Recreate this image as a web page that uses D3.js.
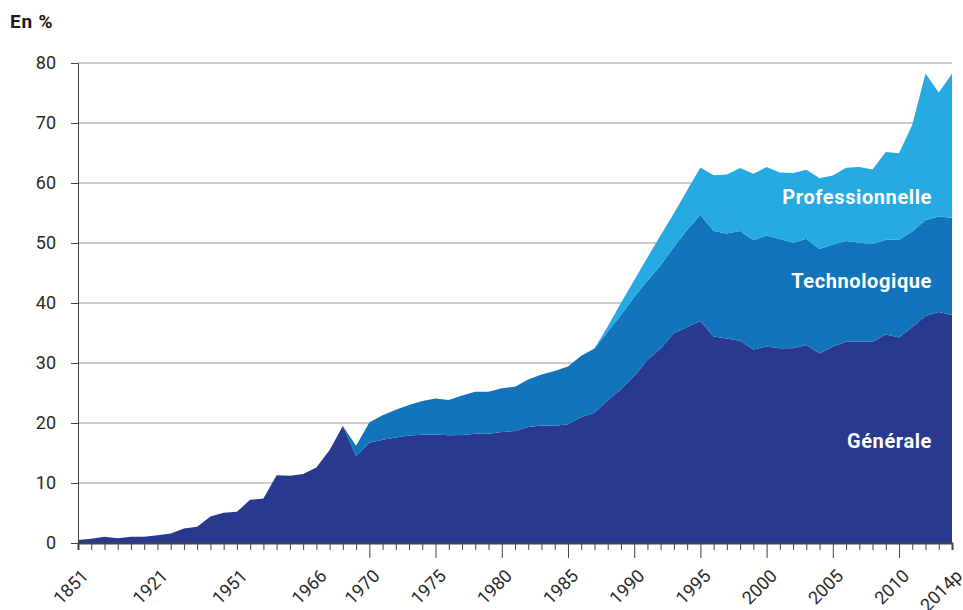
<!DOCTYPE html>
<html>
<head>
<meta charset="utf-8">
<style>
  html, body {
    margin: 0;
    padding: 0;
    background: #fff;
  }
  .grid line {
    stroke: #9a9a9a;
    stroke-width: 1;
  }
  .axis text {
    font: 400 18px Roboto, sans-serif;
    fill: #2a2a2a;
  }
  .axis path, .axis line {
    stroke: #444;
  }
  .serie-label {
    font: bold 20px Roboto, sans-serif;
    letter-spacing: 0.6px;
    fill: #fff;
  }
  .unit {
    font: bold 19px Roboto, sans-serif;
    letter-spacing: 0.8px;
    fill: #1a1a1a;
  }
</style>
</head>
<body>
<div id="chart"></div>

<script src="https://d3js.org/d3.v7.min.js"></script>
<script>

// categories (the axis is not proportional to time)
var years = ["1851", "1861", "1881", "1891", "1901", "1911", "1921",
  "1926", "1931", "1936", "1946", "1949", "1951",
  "1955", "1960", "1962", "1964", "1965", "1966",
  "1967", "1968", "1969", "1970", "1971", "1972", "1973", "1974", "1975",
  "1976", "1977", "1978", "1979", "1980", "1981", "1982", "1983", "1984", "1985",
  "1986", "1987", "1988", "1989", "1990", "1991", "1992", "1993", "1994", "1995",
  "1996", "1997", "1998", "1999", "2000", "2001", "2002", "2003", "2004", "2005",
  "2006", "2007", "2008", "2009", "2010", "2011", "2012", "2013", "2014p"];

var tickLabels = ["1851", "1921", "1951", "1966", "1970", "1975", "1980", "1985",
  "1990", "1995", "2000", "2005", "2010", "2014p"];
var longTicks = ["1970", "1975", "1980", "1985", "1990", "1995", "2000", "2005", "2010"];

var yTicks = [0, 10, 20, 30, 40, 50, 60, 70, 80];

// bacheliers dans une génération, en %
var generale = [0.5, 0.7, 1.05, 0.8, 1.05, 1.05, 1.3,
  1.6, 2.4, 2.7, 4.4, 5.05, 5.2,
  7.2, 7.4, 11.3, 11.2, 11.5, 12.6,
  15.5, 19.5, 14.5, 16.7, 17.2, 17.6, 17.9, 18.05, 18.1,
  17.95, 18.0, 18.2, 18.2, 18.5, 18.65, 19.35, 19.6, 19.55, 19.8,
  21.0, 21.7, 23.8, 25.6, 27.8, 30.5, 32.4, 34.95, 36.0, 37.0,
  34.4, 34.1, 33.7, 32.25, 32.75, 32.45, 32.45, 33.0, 31.6, 32.75,
  33.55, 33.55, 33.55, 34.75, 34.25, 36.0, 37.85, 38.5, 38.0];

var technologique = [0, 0, 0, 0, 0, 0, 0,
  0, 0, 0, 0, 0, 0,
  0, 0, 0, 0, 0, 0,
  0, 0, 1.7, 3.4, 4.1, 4.6, 5.1, 5.6, 6.0,
  5.9, 6.6, 7.0, 7.0, 7.3, 7.4, 7.9, 8.5, 9.1, 9.6,
  10.2, 10.7, 11.4, 12.4, 13.2, 13.2, 13.9, 14.4, 16.2, 17.7,
  17.6, 17.5, 18.3, 18.2, 18.5, 18.2, 17.6, 17.7, 17.4, 17.0,
  16.8, 16.5, 16.3, 15.8, 16.3, 15.9, 16.0, 15.9, 16.2];

var professionnelle = [0, 0, 0, 0, 0, 0, 0,
  0, 0, 0, 0, 0, 0,
  0, 0, 0, 0, 0, 0,
  0, 0, 0, 0, 0, 0, 0, 0, 0,
  0, 0, 0, 0, 0, 0, 0, 0, 0, 0,
  0, 0, 0.9, 2.0, 2.8, 3.9, 5.0, 5.6, 6.6, 7.9,
  9.3, 9.8, 10.5, 11.1, 11.4, 11.1, 11.6, 11.5, 11.8, 11.5,
  12.2, 12.6, 12.4, 14.6, 14.4, 17.8, 24.4, 20.7, 24.0];

var keys = ["generale", "technologique", "professionnelle"];
var names = {generale: "Générale", technologique: "Technologique", professionnelle: "Professionnelle"};
var colors = {generale: "#29398f", technologique: "#1275bb", professionnelle: "#27aae1"};
var labelBaseline = {generale: 447.5, technologique: 288, professionnelle: 204};

var table = years.map(function(y, i) {
  return {year: y, generale: generale[i], technologique: technologique[i], professionnelle: professionnelle[i]};
});

var width = 963, height = 610;
var margin = {top: 63, right: 11, bottom: 67, left: 78};

var svg = d3.select("#chart").append("svg")
    .attr("width", width)
    .attr("height", height);

var x = d3.scalePoint()
    .domain(years)
    .range([margin.left, width - margin.right]);

var y = d3.scaleLinear()
    .domain([0, 80])
    .range([height - margin.bottom, margin.top]);

// grid
svg.append("g")
    .attr("class", "grid")
  .selectAll("line")
    .data(yTicks.slice(1))
  .enter().append("line")
    .attr("x1", margin.left)
    .attr("x2", width - margin.right)
    .attr("y1", function(d) { return y(d); })
    .attr("y2", function(d) { return y(d); });

var series = d3.stack().keys(keys)(table);

var area = d3.area()
    .x(function(d) { return x(d.data.year); })
    .y0(function(d) { return y(d[0]); })
    .y1(function(d) { return y(d[1]); });

svg.append("g")
  .selectAll("path")
    .data(series)
  .enter().append("path")
    .attr("fill", function(d) { return colors[d.key]; })
    .attr("d", area);

// y axis
var yAxis = svg.append("g")
    .attr("class", "axis")
    .attr("transform", "translate(" + margin.left + ",0)")
    .call(d3.axisLeft(y).tickValues(yTicks).tickSize(7).tickPadding(15));
yAxis.select(".domain").attr("stroke", "#555");

// x axis
var xAxis = svg.append("g")
    .attr("class", "axis")
    .attr("transform", "translate(0," + y(0) + ")")
    .call(d3.axisBottom(x).tickValues(years).tickSizeOuter(0).tickSize(7)
      .tickFormat(function(d) { return tickLabels.indexOf(d) >= 0 ? d : ""; }));

xAxis.select(".domain").attr("stroke", "#222").attr("stroke-width", 2);
xAxis.selectAll(".tick line")
    .attr("stroke", "#444")
    .attr("y2", function(d) { return longTicks.indexOf(d) >= 0 ? 15 : 7; });
xAxis.selectAll(".tick text")
    .attr("text-anchor", "end")
    .attr("y", null)
    .attr("dy", null)
    .attr("transform", "translate(11,34) rotate(-45)");

// series labels
svg.append("g")
  .selectAll("text")
    .data(keys)
  .enter().append("text")
    .attr("class", "serie-label")
    .attr("x", 932)
    .attr("y", function(d) { return labelBaseline[d]; })
    .attr("text-anchor", "end")
    .text(function(d) { return names[d]; });

svg.append("text")
    .attr("class", "unit")
    .attr("x", 10)
    .attr("y", 28)
    .text("En %");

</script>
</body>
</html>
